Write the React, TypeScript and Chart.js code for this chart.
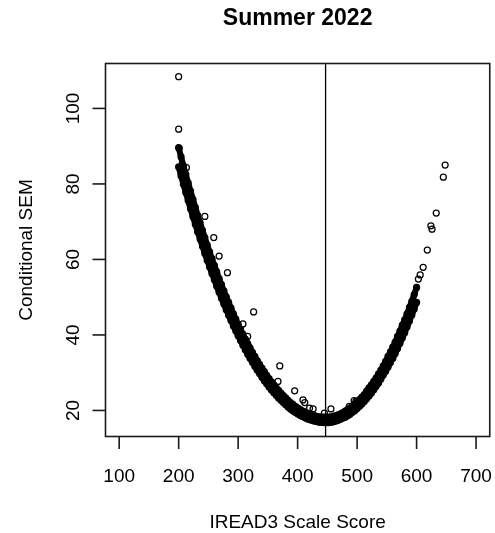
import React, { useEffect, useRef } from "react";
import { Chart, registerables } from "chart.js";

Chart.register(...registerables);

// ---- data ----
// scale scores of the dense band, with the lower and upper edge of the SEM band
const scores = [
  200, 204, 208, 212, 216, 220, 224, 228, 232, 236, 240, 244, 248, 252, 256, 260, 264, 268, 272, 276,
  280, 284, 288, 292, 296, 300, 304, 308, 312, 316, 320, 324, 328, 332, 336, 340, 344, 348, 352, 356,
  360, 364, 368, 372, 376, 380, 384, 388, 392, 396, 400, 404, 408, 412, 416, 420, 424, 428, 432, 436,
  440, 444, 448, 452, 456, 460, 464, 468, 472, 476, 480, 484, 488, 492, 496, 500, 504, 508, 512, 516,
  520, 524, 528, 532, 536, 540, 544, 548, 552, 556, 560, 564, 568, 572, 576, 580, 584, 588, 592, 596,
  600,
];

const semLower = [
  84.5, 82.2, 79.9, 77.7, 75.6, 73.4, 71.3, 69.3, 67.3, 65.4, 63.5, 61.6, 59.8, 58.0, 56.3, 54.6, 52.9, 51.3, 49.7, 48.2,
  46.7, 45.2, 43.8, 42.4, 41.1, 39.8, 38.5, 37.3, 36.1, 34.9, 33.8, 32.8, 31.7, 30.7, 29.8, 28.8, 27.9, 27.1, 26.2, 25.4,
  24.7, 24.0, 23.3, 22.7, 22.1, 21.5, 20.9, 20.4, 19.9, 19.5, 19.1, 18.7, 18.4, 18.1, 17.8, 17.6, 17.4, 17.2, 17.1, 16.9,
  16.9, 16.8, 16.8, 16.8, 16.9, 17.0, 17.2, 17.4, 17.7, 18.0, 18.2, 18.6, 19.0, 19.5, 19.9, 20.5, 21.1, 21.7, 22.4, 23.1,
  23.8, 24.6, 25.5, 26.4, 27.3, 28.3, 29.4, 30.4, 31.5, 32.7, 33.8, 35.1, 36.4, 37.8, 39.2, 40.6, 42.2, 43.7, 45.3, 46.9,
  48.6,
];

const semUpper = [
  89.6, 87.2, 84.8, 82.5, 80.3, 78.1, 75.9, 73.8, 71.7, 69.7, 67.7, 65.8, 63.8, 62.0, 60.2, 58.4, 56.7, 54.9, 53.3, 51.7,
  50.1, 48.6, 47.1, 45.6, 44.2, 42.8, 41.5, 40.2, 38.9, 37.7, 36.6, 35.4, 34.3, 33.2, 32.2, 31.2, 30.3, 29.3, 28.4, 27.6,
  26.8, 26.0, 25.3, 24.6, 23.9, 23.3, 22.7, 22.1, 21.6, 21.1, 20.7, 20.3, 19.9, 19.6, 19.3, 19.0, 18.8, 18.6, 18.4, 18.3,
  18.2, 18.2, 18.2, 18.2, 18.3, 18.4, 18.6, 18.8, 19.1, 19.4, 19.8, 20.2, 20.6, 21.1, 21.7, 22.3, 22.9, 23.5, 24.2, 25.1,
  26.0, 26.8, 27.7, 28.6, 29.7, 30.7, 31.8, 33.0, 34.3, 35.5, 36.8, 38.1, 39.6, 41.0, 42.6, 44.0, 45.6, 47.3, 48.9, 50.7,
  52.6,
];

// isolated points outside the dense band
const outlierScores = [
  200, 200, 201, 213, 244, 259, 268, 282, 308, 316, 326, 367, 370, 395, 409, 412, 420, 426, 445, 456,
  487, 495, 498, 603, 606, 611, 618, 624, 626, 633, 645, 648,
];
const outlierSems = [
  108.4, 94.5, 89.4, 84.3, 71.4, 65.8, 60.9, 56.5, 42.9, 39.6, 46.1, 27.7, 31.8, 25.2, 22.8, 22.1, 20.6, 20.4, 19.3, 20.4,
  21.1, 22.6, 22.4, 54.8, 55.9, 57.9, 62.5, 68.9, 68.0, 72.3, 81.8, 85.0,
];

const xTicks = [100, 200, 300, 400, 500, 600, 700];
const yTicks = [20, 40, 60, 80, 100];
const cutScore = 447;

const titleText = "Summer 2022";
const xTitle = "IREAD3 Scale Score";
const yTitle = "Conditional SEM";

const W = 495;
const H = 533;
const FONT = '"Liberation Sans", Arial, Helvetica, sans-serif';

const rStylePlugin = {
  id: "rStyle",
  afterDatasetsDraw(chart: any) {
    const { ctx, chartArea: a, scales } = chart;
    const xs = scales.x;
    const ys = scales.y;
    ctx.save();

    // reference line
    const cx = xs.getPixelForValue(cutScore);
    ctx.strokeStyle = "#000";
    ctx.lineWidth = 1.3;
    ctx.beginPath();
    ctx.moveTo(cx, a.top);
    ctx.lineTo(cx, a.bottom);
    ctx.stroke();

    // box
    ctx.strokeStyle = "#1a1a1a";
    ctx.lineWidth = 1.6;
    ctx.strokeRect(a.left, a.top, a.right - a.left, a.bottom - a.top);

    // x ticks + labels
    ctx.fillStyle = "#000";
    ctx.font = `19px ${FONT}`;
    ctx.textAlign = "center";
    ctx.textBaseline = "alphabetic";
    for (const t of xTicks) {
      const px = xs.getPixelForValue(t);
      ctx.beginPath();
      ctx.moveTo(px, a.bottom);
      ctx.lineTo(px, a.bottom + 12.5);
      ctx.stroke();
      ctx.fillText(String(t), px, 482);
    }

    // y ticks + labels (rotated, R style las=0)
    for (const t of yTicks) {
      const py = ys.getPixelForValue(t);
      ctx.beginPath();
      ctx.moveTo(a.left, py);
      ctx.lineTo(a.left - 13, py);
      ctx.stroke();
      ctx.save();
      ctx.translate(78.5, py);
      ctx.rotate(-Math.PI / 2);
      ctx.fillText(String(t), 0, 0);
      ctx.restore();
    }

    // axis titles
    ctx.fillText(xTitle, (a.left + a.right) / 2, 528);
    ctx.save();
    ctx.translate(31.5, (a.top + a.bottom) / 2);
    ctx.rotate(-Math.PI / 2);
    ctx.fillText(yTitle, 0, 0);
    ctx.restore();

    // main title
    ctx.font = `bold 23px ${FONT}`;
    ctx.fillText(titleText, (a.left + a.right) / 2, 25);

    ctx.restore();
  },
};

function rows(xv: number[], yv: number[]) {
  return xv.map((v, i) => ({ x: v, y: yv[i] }));
}

const circle = {
  pointRadius: 3,
  pointBorderWidth: 1.25,
  pointBorderColor: "#000",
  pointBackgroundColor: "rgba(0,0,0,0)",
};

export default function App() {
  const ref = useRef<HTMLCanvasElement | null>(null);

  useEffect(() => {
    if (!ref.current) return;
    const bandEdge = {
      type: "line",
      showLine: true,
      tension: 0,
      borderColor: "#000",
      borderWidth: 6,
      borderCapStyle: "round",
      borderJoinStyle: "round",
      ...circle,
    };
    const chart = new Chart(ref.current, {
      type: "scatter",
      data: {
        datasets: [
          { ...bandEdge, data: rows(scores, semLower), fill: false, backgroundColor: "#000" },
          { ...bandEdge, data: rows(scores, semUpper), fill: "-1", backgroundColor: "#000" },
          {
            data: rows(outlierScores, outlierSems),
            showLine: false,
            borderColor: "#000",
            backgroundColor: "rgba(0,0,0,0)",
            ...circle,
          },
        ],
      },
      options: {
        responsive: false,
        animation: false,
        devicePixelRatio: 1,
        events: [],
        layout: { padding: { left: 105.5, top: 63.5, right: 4, bottom: 96.5 } },
        scales: {
          x: { type: "linear", min: 77, max: 723, display: false },
          y: { type: "linear", min: 13.1, max: 111.9, display: false },
        },
        plugins: {
          legend: { display: false },
          tooltip: { enabled: false },
          title: { display: false },
        },
      },
      plugins: [rStylePlugin],
    } as any);
    return () => chart.destroy();
  }, []);

  return (
    <div style={{ position: "absolute", left: 0, top: 0, width: W, height: H, background: "#fff" }}>
      <canvas ref={ref} width={W} height={H} style={{ width: W, height: H, display: "block" }} />
    </div>
  );
}
